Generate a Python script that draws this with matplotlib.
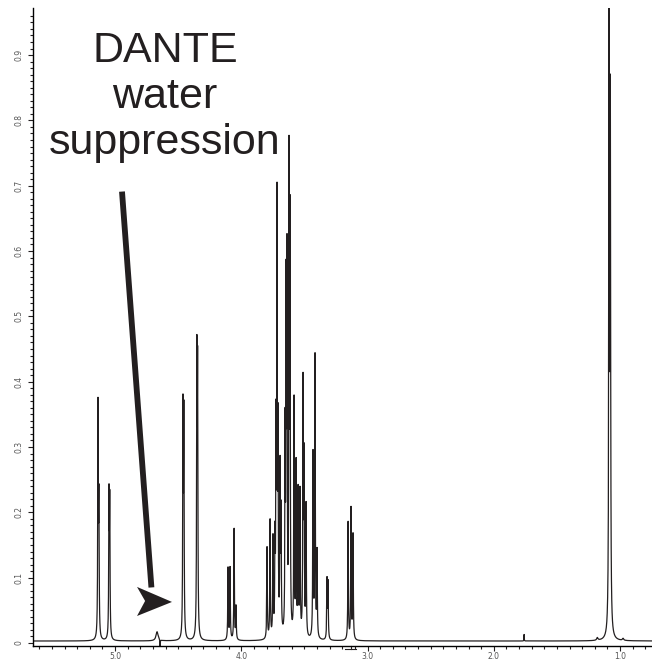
import numpy as np
import matplotlib
matplotlib.use("Agg")
import matplotlib.pyplot as plt
from matplotlib.patches import Polygon

# peak list: shift (ppm), height, half width (ppm)
peak_ppm = [5.135, 5.128, 5.048, 5.042,
            4.667, 4.643,
            4.462, 4.455, 4.352, 4.346,
            4.105, 4.089, 4.057, 4.042,
            3.796, 3.772, 3.749, 3.733, 3.725, 3.717, 3.709, 3.693, 3.685,
            3.653, 3.645, 3.638, 3.622, 3.614,
            3.582, 3.566, 3.550, 3.535, 3.511, 3.503, 3.487,
            3.432, 3.416, 3.400,
            3.321, 3.313,
            3.154, 3.131, 3.115,
            1.76, 1.18, 1.087, 1.077, 0.976]
peak_height = [0.35, 0.20, 0.21, 0.20,
               0.014, -0.012,
               0.34, 0.33, 0.41, 0.39,
               0.11, 0.11, 0.17, 0.05,
               0.14, 0.18, 0.15, 0.14, 0.30, 0.65, 0.30, 0.25, 0.18,
               0.30, 0.50, 0.55, 0.71, 0.62,
               0.36, 0.26, 0.22, 0.22, 0.38, 0.26, 0.20,
               0.28, 0.43, 0.13,
               0.09, 0.085,
               0.18, 0.20, 0.16,
               0.010, 0.004, 0.93, 0.80, 0.003]
peak_width = [0.0025, 0.0025, 0.0025, 0.0025,
              0.010, 0.0015,
              0.0025, 0.0025, 0.0025, 0.0025,
              0.0025, 0.0025, 0.0025, 0.0025,
              0.0025, 0.0025, 0.0025, 0.0025, 0.0022, 0.0022, 0.0022, 0.0025, 0.0025,
              0.0022, 0.0022, 0.0022, 0.0022, 0.0022,
              0.0025, 0.0025, 0.0025, 0.0025, 0.0025, 0.0025, 0.0025,
              0.0025, 0.0025, 0.0025,
              0.0025, 0.0025,
              0.0025, 0.0025, 0.0025,
              0.0012, 0.006, 0.0028, 0.0028, 0.006]
baseline = 0.003

x_major = [5.0, 4.0, 3.0, 2.0, 1.0]
x_major_labels = ["5.0", "4.0", "3.0", "2.0", "1.0"]
y_major = [0.0, 0.1, 0.2, 0.3, 0.4, 0.5, 0.6, 0.7, 0.8, 0.9]
y_major_labels = ["0", "0.1", "0.2", "0.3", "0.4", "0.5", "0.6", "0.7", "0.8", "0.9"]

ppm = np.linspace(0.74, 5.66, 24000)
spec = np.full_like(ppm, baseline)
for p, h, w in zip(peak_ppm, peak_height, peak_width):
    spec += h * w**2 / ((ppm - p)**2 + w**2)

fig = plt.figure(figsize=(6.52, 6.62), dpi=100)
ax = fig.add_axes([0.0506, 0.0242, 0.9494, 0.9637])
ax.plot(ppm, spec, color="#231f20", lw=0.9)

ax.set_xlim(5.65, 0.747)
ax.set_ylim(-0.0046, 0.972)

for s in ["top", "right"]:
    ax.spines[s].set_visible(False)
ax.spines["left"].set_linewidth(1.0)
ax.spines["bottom"].set_linewidth(1.0)

ax.set_xticks(x_major)
ax.set_xticklabels(x_major_labels)
ax.set_xticks(np.arange(0.8, 5.65, 0.1), minor=True)
ax.set_yticks(y_major)
ax.set_yticklabels(y_major_labels, rotation=90, va="center")
ax.set_yticks(np.arange(0.0, 0.97, 0.01), minor=True)
ax.tick_params(axis="both", which="major", length=3.5, width=0.8, labelsize=5.5,
               colors="#231f20", labelcolor="#555555")
ax.tick_params(axis="both", which="minor", length=2.2, width=0.8, colors="#231f20")
ax.tick_params(axis="x", pad=0.5)
ax.tick_params(axis="y", pad=3)

# annotation text and arrow
ax.text(4.605, 0.937, "DANTE\nwater\nsuppression", ha="center", va="top",
        fontsize=31, family="Liberation Sans", color="#231f20", linespacing=1.2)
ax.plot([4.945, 4.712], [0.691, 0.085], color="#231f20", lw=4.2, solid_capstyle="butt")
head = Polygon([(4.549, 0.0628), (4.826, 0.0858), (4.762, 0.0643), (4.826, 0.0413)],
               closed=True, facecolor="#231f20", edgecolor="none")
ax.add_patch(head)

# small mark under the axis near 3.1 ppm
ax.plot([3.18, 3.09], [-0.0095, -0.0095], color="#231f20", lw=0.8, clip_on=False)
ax.plot([3.135, 3.135], [-0.0046, -0.0095], color="#231f20", lw=0.8, clip_on=False)

fig.savefig("out.png", dpi=100)
